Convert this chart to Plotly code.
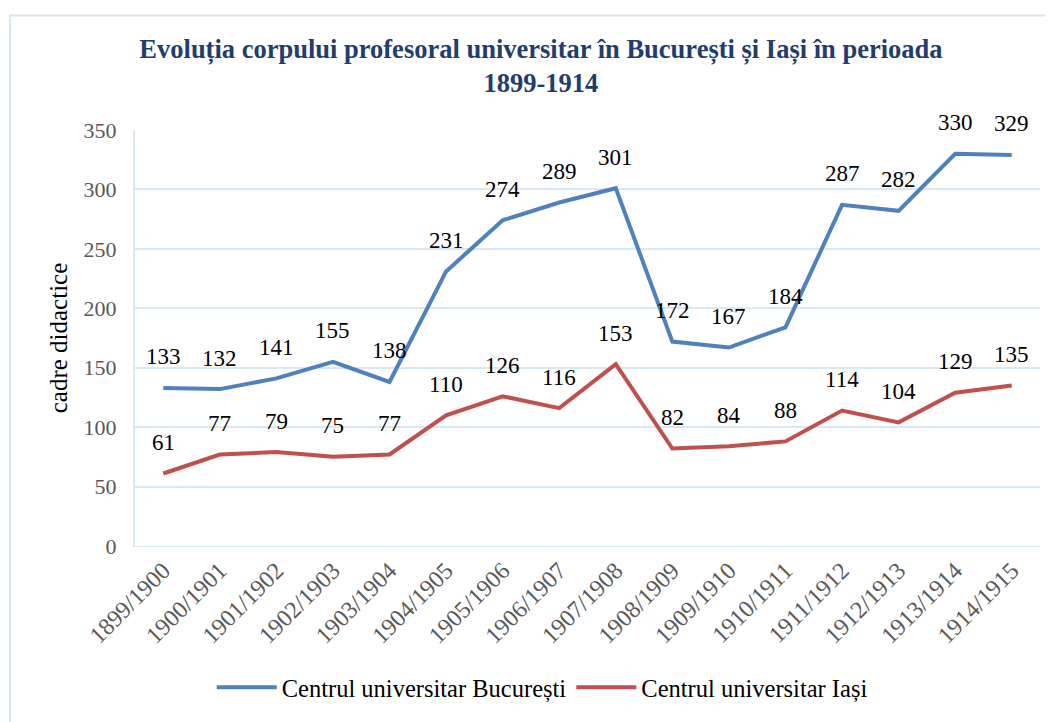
import plotly.graph_objects as go

# Academic years and teaching staff counts
years = ["1899/1900", "1900/1901", "1901/1902", "1902/1903", "1903/1904",
         "1904/1905", "1905/1906", "1906/1907", "1907/1908", "1908/1909",
         "1909/1910", "1910/1911", "1911/1912", "1912/1913", "1913/1914",
         "1914/1915"]
bucuresti = [133, 132, 141, 155, 138, 231, 274, 289, 301, 172, 167, 184, 287, 282, 330, 329]
iasi = [61, 77, 79, 75, 77, 110, 126, 116, 153, 82, 84, 88, 114, 104, 129, 135]

blue = "#4F81BD"
red = "#C0504D"
grid = "#D9E8F2"
serif = "Liberation Serif"

fig = go.Figure()
fig.add_trace(go.Scatter(x=years, y=bucuresti, mode="lines",
                         name="Centrul universitar București",
                         line=dict(color=blue, width=4)))
fig.add_trace(go.Scatter(x=years, y=iasi, mode="lines",
                         name="Centrul universitar Iași",
                         line=dict(color=red, width=4)))

# data labels above each point
for series in (bucuresti, iasi):
    for yr, v in zip(years, series):
        fig.add_annotation(x=yr, y=v, text=str(v), showarrow=False, yshift=31,
                           font=dict(family=serif, size=23, color="#000000"))

fig.update_layout(
    width=1045, height=714,
    margin=dict(l=127, r=13, t=122, b=174),
    paper_bgcolor="white", plot_bgcolor="white",
    title=dict(text="Evoluția corpului profesoral universitar în București și Iași în perioada<br>1899-1914",
               x=0.51, xanchor="center", y=0.93, yanchor="middle",
               font=dict(family=serif, size=26.5, color="#1F3D6E", weight="bold")),
    showlegend=True,
    legend=dict(orientation="h", x=0.45, xanchor="center", y=-0.34, yanchor="middle",
                font=dict(family=serif, size=24.5, color="#000000"),
                itemwidth=60, tracegroupgap=0),
    xaxis=dict(type="category", range=[-0.5, 15.5], tickangle=-45, showgrid=False,
               showline=True, linecolor=grid, linewidth=1,
               tickfont=dict(family=serif, size=24, color="#595959"), ticks=""),
    yaxis=dict(range=[0, 350], dtick=50, showgrid=True, gridcolor=grid, gridwidth=2,
               zeroline=False, showline=True, linecolor=grid, linewidth=2,
               ticks="", ticklabelstandoff=12,
               title=dict(text="cadre didactice", standoff=9,
                          font=dict(family=serif, size=25, color="#000000")),
               tickfont=dict(family=serif, size=22, color="#595959")),
    shapes=[dict(type="rect", xref="paper", yref="paper",
                 x0=-0.138, x1=1.01, y0=-0.48, y1=1.275,
                 line=dict(color="#D6E6F0", width=2))],
)

fig.write_html("out.html")
